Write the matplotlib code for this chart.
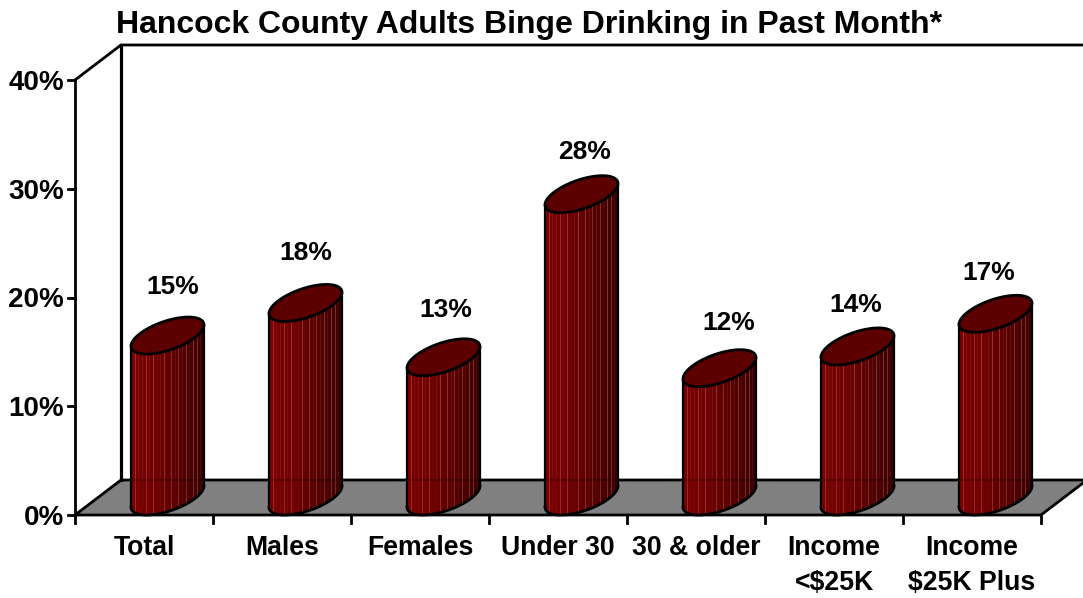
import numpy as np
import matplotlib
matplotlib.use('Agg')
import matplotlib.pyplot as plt
from matplotlib.colors import LinearSegmentedColormap

# values
categories = ['Total', 'Males', 'Females', 'Under 30', '30 & older', 'Income\n<$25K', 'Income\n$25K Plus']
binge_pct = [14.8, 17.8, 12.8, 27.8, 11.8, 13.8, 16.8]
y_ticks = [0, 10, 20, 30, 40]
y_tick_labels = ['0%', '10%', '20%', '30%', '40%']
title = 'Hancock County Adults Binge Drinking in Past Month*'

# where each value label sits relative to its cylinder (px)
label_dx = [5, 0, 2, 3, 9, -2, -7]
label_dy = [49, 50, 47, 42, 45, 41, 41]

plt.rcParams['font.family'] = ['Liberation Sans', 'DejaVu Sans']
plt.rcParams['font.weight'] = 'bold'

W, H = 1083, 598
x_unit = 138.0      # px per category
y_unit = 10.875     # px per percent
x0_px, y0_px = 75.0, 515.0

fig = plt.figure(figsize=(W / 100, H / 100), dpi=100)
ax = fig.add_axes([0, 0, 1, 1])
ax.set_xlim(-x0_px / x_unit, (W - x0_px) / x_unit)
ax.set_ylim(-(H - y0_px) / y_unit, y0_px / y_unit)
ax.axis('off')

# fake 3d: depth of the floor, in data units
dx = 46 / x_unit
dy = 35 / y_unit
n = len(categories)
ymax = y_ticks[-1]
lw = 2.0

# floor
ax.fill([0, dx, n + dx, n], [0, dy, dy, 0], facecolor='#808080', edgecolor='black', lw=lw, zorder=1)
# walls
ax.plot([0, 0], [0, ymax], color='black', lw=lw, zorder=2)
ax.plot([dx, dx], [dy, ymax + dy], color='black', lw=2.3, zorder=2)
ax.plot([0, dx, n + dx], [ymax, ymax + dy, ymax + dy], color='black', lw=lw, zorder=2)

# ticks
for v, lab in zip(y_ticks, y_tick_labels):
    ax.plot([-7 / x_unit, 0], [v, v], color='black', lw=lw, zorder=2)
    ax.text(-11 / x_unit, v - 3 / y_unit, lab, ha='right', va='center', fontsize=20)
for i in range(n + 1):
    ax.plot([i, i], [0, -8 / y_unit], color='black', lw=lw, zorder=2)
for i, lab in enumerate(categories):
    for j, part in enumerate(lab.split('\n')):
        ax.text(i + 0.5, -(33 + 35 * j) / y_unit, part, ha='center', va='center', fontsize=19.2)

# cylinders
rx = 36.5 / x_unit
ry = 18.5 / y_unit
phi = np.radians(35)
cmap = LinearSegmentedColormap.from_list('cyl', ['#7c0000', '#700000', '#580000', '#3c0000'])
n_band = 20


def front_edge(cx, cy, t):
    return cx + rx * np.cos(t), cy + ry * np.sin(t + phi)


for i, v in enumerate(binge_pct):
    cx = i + 92.5 / x_unit
    base = ry
    top = base + v
    edges = np.linspace(-1, 1, n_band + 1)
    for k in range(n_band):
        u = np.linspace(edges[k], edges[k + 1], 6)
        t = 2 * np.pi - np.arccos(u)
        xs, yb = front_edge(cx, base, t)
        _, yt = front_edge(cx, top, t)
        ax.fill_between(xs, yb, yt, color=cmap(k / (n_band - 1)), lw=0.3, zorder=3)
        if k in (1, 4, 6, 9, 11, 13, 15, 17, 18):
            ax.plot([xs[0], xs[0]], [yb[0], yt[0]], color='#c07070', lw=0.6, alpha=0.42, zorder=3)
    # back edge of the floor shows faintly through the cylinder
    ax.plot([cx - rx, cx + rx], [dy, dy], color='black', lw=1.5, alpha=0.2, zorder=3)
    # outline
    t = np.linspace(np.pi, 2 * np.pi, 80)
    xs, yb = front_edge(cx, base, t)
    ax.plot(xs, yb, color='black', lw=lw, zorder=4)
    ax.plot([cx - rx, cx - rx], [front_edge(cx, base, np.pi)[1], front_edge(cx, top, np.pi)[1]], color='black', lw=1.6, zorder=4)
    ax.plot([cx + rx, cx + rx], [front_edge(cx, base, 0.0)[1], front_edge(cx, top, 0.0)[1]], color='black', lw=1.6, zorder=4)
    # top cap
    t = np.linspace(0, 2 * np.pi, 120)
    xs, ys = front_edge(cx, top, t)
    ax.fill(xs, ys, facecolor='#5c0000', edgecolor='black', lw=lw, zorder=5)
    # value label
    ax.text(cx + label_dx[i] / x_unit, top + label_dy[i] / y_unit, f'{round(v)}%', ha='center', va='center',
            fontsize=19, zorder=6)

ax.text((529 - x0_px) / x_unit, (y0_px - 25) / y_unit, title, ha='center', va='center', fontsize=23)

fig.savefig('out.png', dpi=100)
